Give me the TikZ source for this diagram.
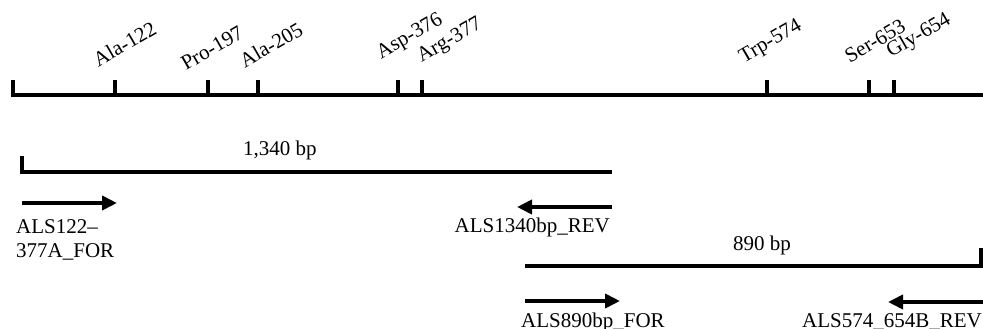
\documentclass[tikz,border=0pt]{standalone}
\usepackage{fontspec}
\setmainfont{Liberation Serif}
\usepackage{tikz}
\usetikzlibrary{arrows.meta,positioning}

\begin{document}
\begin{tikzpicture}[
  x=1pt, y=-1pt, font=\fontsize{21}{24}\selectfont,
  bar/.style={line width=4pt, line join=miter},
  ar/.style={bar, -{Triangle[length=15pt,width=14pt]}},
  res/.style={rotate=30, inner sep=0pt},
  lab/.style={inner sep=0pt, align=left}]
  \useasboundingbox (0,0) rectangle (983,329);
  % gene axis with residue positions
  \coordinate (gstart) at (12.5,80);
  \coordinate (gcorner) at (12.5,95);
  \coordinate (gend) at (985,95);
  \draw[bar] (gstart) -- (gcorner) -- (gend);
  \coordinate (a122) at (115,95);
  \coordinate (p197) at (208,95);
  \coordinate (a205) at (258,95);
  \coordinate (d376) at (398,95);
  \coordinate (r377) at (422,95);
  \coordinate (w574) at (767,95);
  \coordinate (s653) at (869,95);
  \coordinate (g654) at (894,95);
  \draw[bar] (a122) -- ++(0,-15);
  \draw[bar] (p197) -- ++(0,-15);
  \draw[bar] (a205) -- ++(0,-15);
  \draw[bar] (d376) -- ++(0,-15);
  \draw[bar] (r377) -- ++(0,-15);
  \draw[bar] (w574) -- ++(0,-15);
  \draw[bar] (s653) -- ++(0,-15);
  \draw[bar] (g654) -- ++(0,-15);
  \node[res] (la122) at (124.5,44) {Ala-122};
  \node[res] (lp197) at (212,48) {Pro-197};
  \node[res] (la205) at (271,45) {Ala-205};
  \node[res] (ld376) at (410,37) {Asp-376};
  \node[res] (lr377) at (450,41) {Arg-377};
  \node[res] (lw574) at (771,42) {Trp-574};
  \node[res] (ls653) at (875,41) {Ser-653};
  \node[res] (lg654) at (919,36) {Gly-654};
  % 1,340 bp product
  \coordinate (la) at (22,156);
  \coordinate (lb) at (22,172);
  \coordinate (lc) at (612,172);
  \draw[bar] (la) -- (lb) -- (lc);
  \node[lab, anchor=base west] (long) at (243,155) {1,340 bp};
  \coordinate (f1s) at (22,203);
  \coordinate (f1e) at (117,203);
  \coordinate (r1s) at (612,207);
  \coordinate (r1e) at (517,207);
  \draw[ar] (f1s) -- (f1e);
  \draw[ar] (r1s) -- (r1e);
  \node[lab, anchor=north west] (for1) at (16,219) {ALS122–\\377A\_FOR};
  \node[lab, anchor=base east] (rev1) at (610,232) {ALS1340bp\_REV};
  % 890 bp product
  \coordinate (sa) at (525,266);
  \coordinate (sb) at (981,266);
  \coordinate (sc) at (981,248);
  \draw[bar] (sa) -- (sb) -- (sc);
  \node[lab, anchor=base west] (short) at (733,250) {890 bp};
  \coordinate (f2s) at (525,301);
  \coordinate (f2e) at (620,301);
  \coordinate (r2s) at (985,302);
  \coordinate (r2e) at (888,302);
  \draw[ar] (f2s) -- (f2e);
  \draw[ar] (r2s) -- (r2e);
  \node[lab, anchor=base west] (for2) at (521,327) {ALS890bp\_FOR};
  \node[lab, anchor=base west] (rev2) at (802,327) {ALS574\_654B\_REV};
\end{tikzpicture}
\end{document}
